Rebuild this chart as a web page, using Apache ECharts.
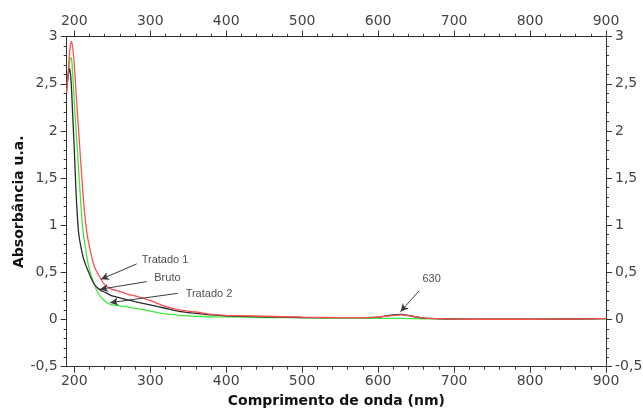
<!DOCTYPE html>
<html>
<head>
<meta charset="utf-8">
<script src="https://cdn.jsdelivr.net/npm/echarts@6/dist/echarts.min.js"></script>
<style>
html,body{margin:0;padding:0;background:#fff;}
#chart{width:643px;height:409px;}
</style>
</head>
<body>
<div id="chart"></div>
<script>
// Wavelengths (nm)
var wavelengths = [190,192,194,196,198,200,202,204,206,208,210,212,215,218,222,226,230,235,240,245,250,260,270,280,300,320,340,360,380,400,450,500,550,580,600,615,630,645,660,700,750,800,850,900];
// Tratado 1 (red)
var tratado1 = [2.40,2.62,2.85,2.95,2.88,2.70,2.45,2.20,1.97,1.73,1.50,1.27,1.02,0.85,0.70,0.57,0.50,0.43,0.37,0.34,0.32,0.30,0.27,0.25,0.20,0.14,0.10,0.08,0.055,0.045,0.035,0.025,0.02,0.02,0.025,0.04,0.05,0.035,0.015,0.005,0.003,0.003,0.006,0.01];
// Bruto (black)
var bruto = [2.45,2.60,2.66,2.50,2.15,1.80,1.40,1.10,0.90,0.80,0.72,0.65,0.58,0.52,0.44,0.38,0.34,0.31,0.29,0.27,0.25,0.23,0.21,0.19,0.155,0.12,0.085,0.065,0.05,0.04,0.03,0.022,0.02,0.02,0.025,0.045,0.055,0.035,0.015,0.005,0.003,0.003,0.006,0.01];
// Tratado 2 (green)
var tratado2 = [2.43,2.60,2.75,2.78,2.60,2.30,2.05,1.80,1.55,1.30,1.07,0.90,0.75,0.60,0.47,0.38,0.30,0.24,0.20,0.17,0.155,0.145,0.135,0.12,0.09,0.06,0.045,0.035,0.03,0.028,0.022,0.018,0.015,0.015,0.013,0.012,0.012,0.01,0.008,0.005,0.004,0.004,0.006,0.01];
// Axis tick values
var xMajorTicks = [200,300,400,500,600,700,800,900];
var xMinorTicks = [220,240,260,280,320,340,360,380,420,440,460,480,520,540,560,580,620,640,660,680,720,740,760,780,820,840,860,880];
var yMajorTicks = [-0.5,0,0.5,1,1.5,2,2.5,3];
var yMinorTicks = [-0.4,-0.3,-0.2,-0.1,0.1,0.2,0.3,0.4,0.6,0.7,0.8,0.9,1.1,1.2,1.3,1.4,1.6,1.7,1.8,1.9,2.1,2.2,2.3,2.4,2.6,2.7,2.8,2.9];
// Annotations: text, text anchor, arrow tail, arrow tip (data coords)
var annotTexts = ['Tratado 1','Bruto','Tratado 2','630'];
var annotTextPos = [[288.7,0.636],[305.3,0.438],[346.6,0.269],[658.4,0.427]];
var annotTail = [[282.2,0.591],[295.2,0.402],[336,0.278],[654,0.306]];
var annotTip = [[235.1,0.427],[233.8,0.321],[247,0.179],[629.5,0.084]];

function pairs(ys){ return wavelengths.map(function(x,i){ return [x, ys[i]]; }); }
function fmt(v){ return String(v).replace('.', ','); }

var tickFont = {fontFamily:'DejaVu Sans', fontSize:14, color:'#444'};
var axisLineStyle = {color:'#333', width:1};

function xAxisTicks(pos, values, major, withName){
  var a = {
    type:'value', gridIndex:0, position:pos, min:190, max:900,
    axisLine:{show:true, onZero:false, lineStyle:axisLineStyle},
    axisTick:{show:true, inside:false, length:major?6:3, customValues:values, lineStyle:axisLineStyle},
    axisLabel:Object.assign({show:true, margin:8, customValues:values, formatter:major?fmt:function(){return '';}}, tickFont),
    splitLine:{show:false}
  };
  if (withName){
    a.name = 'Comprimento de onda (nm)';
    a.nameLocation = 'middle';
    a.nameGap = 28;
    a.nameMoveOverlap = false;
    a.nameTextStyle = {fontFamily:'DejaVu Sans', fontSize:14, fontWeight:'bold', color:'#111'};
  }
  return a;
}
function yAxisTicks(pos, values, major, withName){
  var a = {
    type:'value', gridIndex:0, position:pos, min:-0.5, max:3,
    axisLine:{show:true, onZero:false, lineStyle:axisLineStyle},
    axisTick:{show:true, inside:false, length:major?6:3, customValues:values, lineStyle:axisLineStyle},
    axisLabel:Object.assign({show:true, margin:9, customValues:values, formatter:major?fmt:function(){return '';}}, tickFont),
    splitLine:{show:false}
  };
  if (withName){
    a.name = 'Absorbância u.a.';
    a.nameLocation = 'middle';
    a.nameGap = 40;
    a.nameMoveOverlap = false;
    a.nameTextStyle = {fontFamily:'DejaVu Sans', fontSize:14, fontWeight:'bold', color:'#111'};
  }
  return a;
}

var chart = echarts.init(document.getElementById('chart'), null, {renderer:'canvas'});
var option = {
  animation:false,
  backgroundColor:'#fff',
  grid:{left:66.7, right:37, top:36.7, bottom:42.3, containLabel:false, outerBoundsMode:'none'},
  xAxis:[
    xAxisTicks('bottom', xMajorTicks, true, true),
    xAxisTicks('bottom', xMinorTicks, false, false),
    xAxisTicks('top', xMajorTicks, true, false),
    xAxisTicks('top', xMinorTicks, false, false)
  ],
  yAxis:[
    yAxisTicks('left', yMajorTicks, true, true),
    yAxisTicks('left', yMinorTicks, false, false),
    yAxisTicks('right', yMajorTicks, true, false),
    yAxisTicks('right', yMinorTicks, false, false)
  ],
  series:[
    {name:'Bruto', type:'line', data:pairs(bruto), showSymbol:false, smooth:0.2, lineStyle:{color:'#2a2a2a', width:1.3}, itemStyle:{color:'#2a2a2a'}, z:3},
    {name:'Tratado 2', type:'line', data:pairs(tratado2), showSymbol:false, smooth:0.2, lineStyle:{color:'#3ee83e', width:1.3}, itemStyle:{color:'#3ee83e'}, z:2},
    {name:'Tratado 1', type:'line', data:pairs(tratado1), showSymbol:false, smooth:0.2, lineStyle:{color:'#ff5050', width:1.3}, itemStyle:{color:'#ff5050'}, z:4},
    {
      name:'annotations', type:'scatter', symbolSize:0, silent:true, z:10,
      data:annotTexts.map(function(t,i){ return {value:[annotTextPos[i][0], annotTextPos[i][1]], name:t}; }),
      label:{show:true, position:'right', distance:0, formatter:function(p){ return p.name; }, fontFamily:'Liberation Sans', fontSize:11, color:'#222'},
      markLine:{
        silent:true, symbol:['none','arrow'], symbolSize:[6,8],
        lineStyle:{color:'#3a3a3a', width:1, type:'solid'},
        label:{show:false},
        data:annotTexts.map(function(t,i){ return [{coord:annotTail[i]},{coord:annotTip[i]}]; })
      }
    }
  ]
};
chart.setOption(option);
</script>
</body>
</html>
